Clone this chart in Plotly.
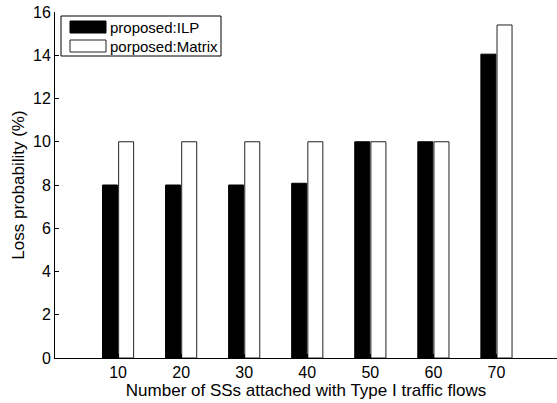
import plotly.graph_objects as go

categories = [10, 20, 30, 40, 50, 60, 70]
ilp_values = [8.0, 8.0, 8.0, 8.08, 10.0, 10.0, 14.05]
matrix_values = [10.0, 10.0, 10.0, 10.0, 10.0, 10.0, 15.4]
series_names = ["proposed:ILP", "porposed:Matrix"]
y_ticks = [0, 2, 4, 6, 8, 10, 12, 14, 16]

W, H = 557, 403
L, R, T, B = 55, 0, 12, 45
FONT = "Liberation Sans, Arial, Helvetica, sans-serif"

fig = go.Figure()
fig.add_trace(go.Bar(x=categories, y=ilp_values, name=series_names[0],
                     marker=dict(color="black", line=dict(color="black", width=1))))
fig.add_trace(go.Bar(x=categories, y=matrix_values, name=series_names[1],
                     marker=dict(color="white", line=dict(color="#222", width=1))))

def px_x(p):
    return (p - L) / (W - L - R)

def px_y(p):
    return (H - B - p) / (H - T - B)

shapes = [
    dict(type="rect", xref="paper", yref="paper", x0=px_x(61), x1=px_x(221), y0=px_y(56), y1=px_y(16),
         line=dict(color="black", width=1), fillcolor="white", layer="above"),
    dict(type="rect", xref="paper", yref="paper", x0=px_x(70), x1=px_x(106), y0=px_y(33), y1=px_y(21),
         line=dict(color="black", width=1), fillcolor="black", layer="above"),
    dict(type="rect", xref="paper", yref="paper", x0=px_x(70), x1=px_x(106), y0=px_y(52), y1=px_y(40),
         line=dict(color="#222", width=1), fillcolor="white", layer="above"),
]
annotations = [
    dict(text=series_names[0], xref="paper", yref="paper", x=px_x(108), y=px_y(27.5),
         xanchor="left", yanchor="middle", showarrow=False, font=dict(size=15, color="black", family=FONT)),
    dict(text=series_names[1], xref="paper", yref="paper", x=px_x(108), y=px_y(46.5),
         xanchor="left", yanchor="middle", showarrow=False, font=dict(size=15, color="black", family=FONT)),
]

fig.update_layout(
    width=W, height=H,
    margin=dict(l=L, r=R, t=T, b=B, pad=0),
    paper_bgcolor="white", plot_bgcolor="white",
    barmode="group", bargap=0.488, bargroupgap=0.07,
    showlegend=False,
    font=dict(family=FONT, size=16, color="black"),
    shapes=shapes, annotations=annotations,
    xaxis=dict(range=[0, 79.6], tickvals=categories, ticktext=[str(c) for c in categories],
               showline=True, linecolor="black", linewidth=1, ticks="inside", ticklen=4,
               tickcolor="black", showgrid=False, zeroline=False,
               tickfont=dict(size=16, family=FONT),
               title=dict(text="Number of SSs attached with Type I traffic flows",
                          font=dict(size=17, family=FONT), standoff=1)),
    yaxis=dict(range=[0, 16], tickvals=y_ticks,
               showline=True, linecolor="black", linewidth=1, ticks="inside", ticklen=4,
               tickcolor="black", showgrid=False, zeroline=False,
               tickfont=dict(size=16, family=FONT),
               title=dict(text="Loss probability (%)", font=dict(size=17, family=FONT), standoff=4)),
)

fig.write_html("out.html")
